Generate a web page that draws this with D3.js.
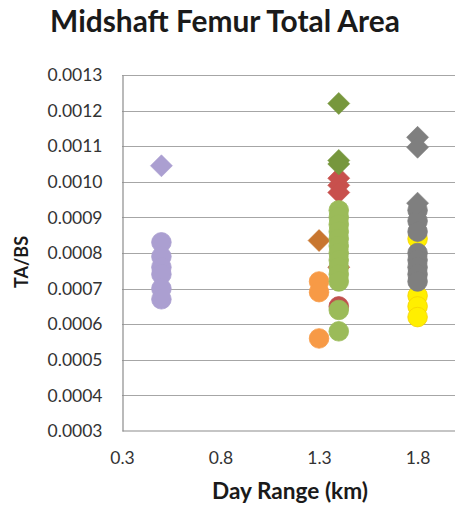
<!DOCTYPE html>
<html>
<head>
<meta charset="utf-8">
<script src="https://cdn.jsdelivr.net/npm/d3@7"></script>
<style>
  html, body { margin: 0; padding: 0; background: #fff; }
  svg { display: block; }
</style>
</head>
<body>
<svg id="chart" width="455" height="511"></svg>
<script>
// ---------------- data ----------------
const chartTitle = "Midshaft Femur Total Area";
const xTitle = "Day Range (km)";
const yTitle = "TA/BS";
const xTicks = [0.3, 0.8, 1.3, 1.8];
const yTicks = [0.0003, 0.0004, 0.0005, 0.0006, 0.0007, 0.0008, 0.0009, 0.0010, 0.0011, 0.0012, 0.0013];

// day range per group
const purpleX = 0.5, orangeX = 1.3, redX = 1.4, greenX = 1.4, yellowX = 1.8, greyX = 1.8;

const purpleCircles = [0.00083, 0.00079, 0.00076, 0.00074, 0.00070, 0.00067];
const purpleDiamonds = [0.001045];
const orangeCircles = [0.00072, 0.00069, 0.00056];
const orangeDiamonds = [0.000835];
const redCircles = [0.00065];
const redDiamonds = [0.00101, 0.00099, 0.00097, 0.00076];
const greenCircles = [0.00092, 0.00090, 0.00088, 0.00086, 0.00084, 0.00082, 0.00080, 0.00078, 0.00076, 0.00074, 0.00072, 0.00064, 0.00058];
const greenDiamonds = [0.00122, 0.00106, 0.00105];
const yellowCircles = [0.00084, 0.00068, 0.00065, 0.00062];
const greyCircles = [0.00092, 0.00089, 0.00086, 0.00080, 0.00078, 0.00076, 0.00074, 0.00072];
const greyDiamonds = [0.001125, 0.001097, 0.00094];

// draw order (later on top)
const series = [
  { x: purpleX, values: purpleCircles, shape: "circle", fill: "#ab9fd1", stroke: "#ab9fd1" },
  { x: purpleX, values: purpleDiamonds, shape: "diamond", fill: "#ab9fd1", stroke: "#ab9fd1" },
  { x: orangeX, values: orangeCircles, shape: "circle", fill: "#f79a46", stroke: "#f79a46" },
  { x: orangeX, values: orangeDiamonds, shape: "diamond", fill: "#c8762f", stroke: "#c8762f" },
  { x: redX, values: redCircles, shape: "circle", fill: "#c0504d", stroke: "#c0504d" },
  { x: redX, values: redDiamonds, shape: "diamond", fill: "#c8504d", stroke: "#c8504d" },
  { x: greenX, values: greenCircles, shape: "circle", fill: "#9bbb59", stroke: "#9bbb59" },
  { x: greenX, values: greenDiamonds, shape: "diamond", fill: "#77973d", stroke: "#77973d" },
  { x: yellowX, values: yellowCircles, shape: "circle", fill: "#ffef00", stroke: "#f5d000" },
  { x: greyX, values: greyCircles, shape: "circle", fill: "#7f7f7f", stroke: "#7f7f7f" },
  { x: greyX, values: greyDiamonds, shape: "diamond", fill: "#7f7f7f", stroke: "#7f7f7f" }
];

// ---------------- layout ----------------
const svg = d3.select("#chart");
const plot = { left: 122, right: 457, top: 75, bottom: 431 };

const x = d3.scaleLinear().domain([0.3, 2.0]).range([plot.left, plot.right]);
const y = d3.scaleLinear().domain([0.0003, 0.0013]).range([plot.bottom, plot.top]);

const fontFam = "Lato, 'Open Sans', 'DejaVu Sans', sans-serif";

// gridlines
svg.append("g")
  .selectAll("line")
  .data(yTicks.slice(1))
  .join("line")
  .attr("x1", plot.left).attr("x2", plot.right)
  .attr("y1", d => Math.round(y(d)) + 0.5).attr("y2", d => Math.round(y(d)) + 0.5)
  .attr("stroke", "#a6a6a6").attr("stroke-width", 1.2);

// y axis
const yAxis = d3.axisLeft(y).tickValues(yTicks).tickSize(0).tickPadding(20)
  .tickFormat(d3.format(".4f"));
const gy = svg.append("g").attr("transform", `translate(${plot.left + 0.5},0)`).call(yAxis);
gy.select(".domain").attr("stroke", "#8c8c8c").attr("stroke-width", 1.2);
gy.selectAll("text").attr("font-family", fontFam).attr("font-size", 17.5).attr("fill", "#333333");

// x axis
const xAxis = d3.axisBottom(x).tickValues(xTicks).tickSize(0).tickPadding(21)
  .tickFormat(d3.format(".1f"));
const gx = svg.append("g").attr("transform", `translate(0,${plot.bottom - 0.5})`).call(xAxis);
gx.select(".domain").attr("stroke", "#8c8c8c").attr("stroke-width", 1.2);
gx.selectAll("text").attr("font-family", fontFam).attr("font-size", 17.5).attr("fill", "#333333");

// markers
const diamond = (cx, cy, r) => `M${cx},${cy - r}L${cx + r},${cy}L${cx},${cy + r}L${cx - r},${cy}Z`;
series.forEach(s => {
  const g = svg.append("g");
  if (s.shape === "circle") {
    g.selectAll("circle").data(s.values).join("circle")
      .attr("cx", x(s.x)).attr("cy", d => y(d)).attr("r", 9.8)
      .attr("fill", s.fill).attr("stroke", s.stroke).attr("stroke-width", 0.8);
  } else {
    g.selectAll("path").data(s.values).join("path")
      .attr("d", d => diamond(x(s.x), y(d), 11))
      .attr("fill", s.fill).attr("stroke", s.stroke).attr("stroke-width", 0.6);
  }
});

// titles
const title = svg.append("text").text(chartTitle)
  .attr("x", 225).attr("y", 32).attr("text-anchor", "middle")
  .attr("font-family", fontFam).attr("font-weight", "bold").attr("font-size", 26)
  .attr("fill", "#1a1a1a");
{
  const w = title.node().getComputedTextLength();
  title.attr("font-size", 26 * 350 / w);
}

const xt = svg.append("text").text(xTitle)
  .attr("x", 290).attr("y", 499).attr("text-anchor", "middle")
  .attr("font-family", fontFam).attr("font-weight", "bold").attr("font-size", 18)
  .attr("fill", "#1a1a1a");
{
  const w = xt.node().getComputedTextLength();
  xt.attr("font-size", 18 * 156 / w);
}

svg.append("text").text(yTitle)
  .attr("transform", "translate(28,262) rotate(-90)")
  .attr("text-anchor", "middle")
  .attr("font-family", fontFam).attr("font-weight", "bold").attr("font-size", 18)
  .attr("fill", "#1a1a1a");
</script>
</body>
</html>
